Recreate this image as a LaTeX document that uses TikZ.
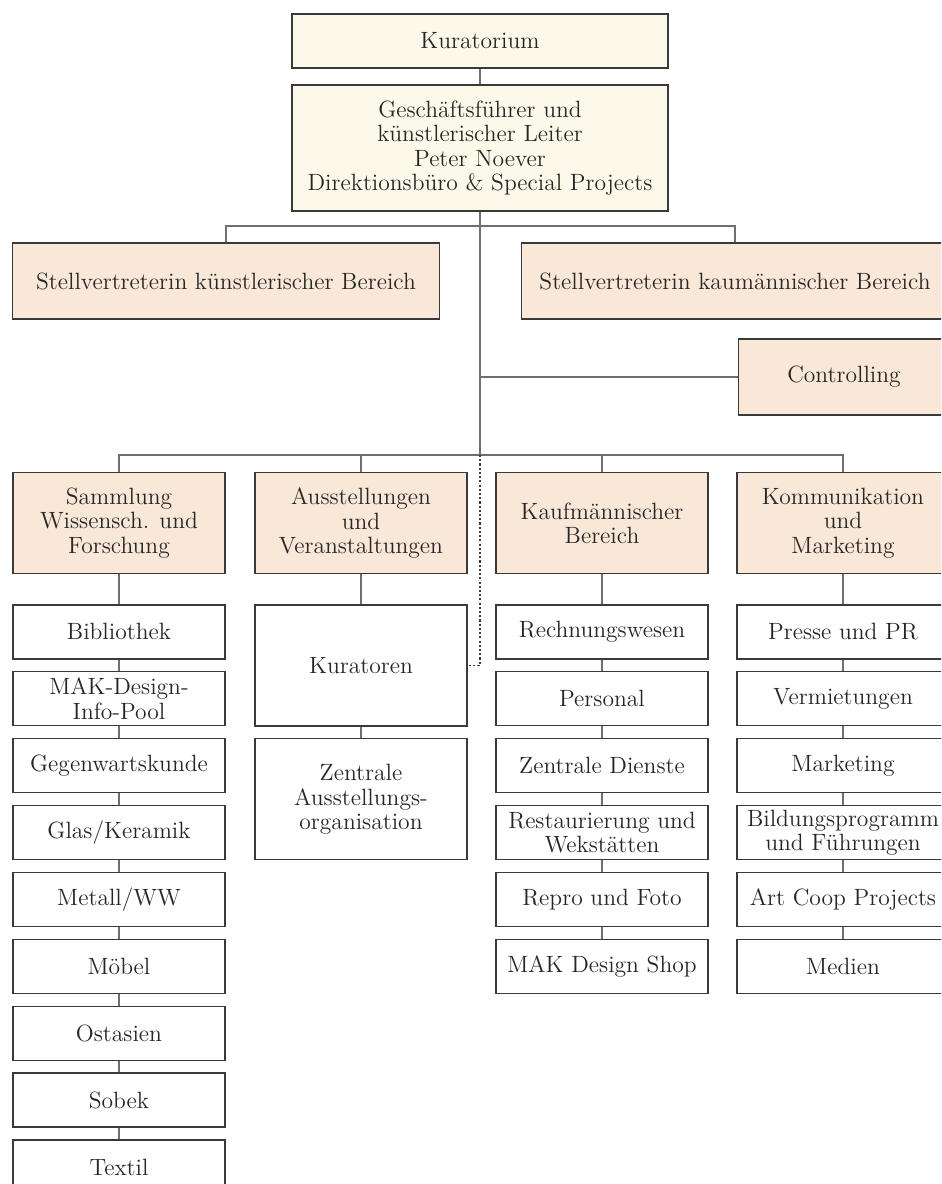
\documentclass[tikz,border=0pt]{standalone}
\usepackage{fontspec}
\usetikzlibrary{positioning}

\definecolor{cream}{HTML}{FCF9EA}
\definecolor{peach}{HTML}{F9E7D8}
\definecolor{boxline}{HTML}{3A3A3A}
\definecolor{linegray}{HTML}{6E6E78}

\begin{document}
\begin{tikzpicture}[
  x=0.02cm, y=-0.02cm,
  box/.style={
        draw=boxline,
        line width=0.8pt,
        align=center,
        inner sep=2pt,
        text=black!85,
        font=\fontsize{13.4}{13.8}\selectfont
  },
  topbox/.style={box, fill=cream, minimum width=7.52cm},
  deputy/.style={box, fill=peach, minimum width=8.54cm, minimum height=1.52cm},
  headbox/.style={box, fill=peach, minimum width=4.24cm, minimum height=2.02cm},
  unitbox/.style={box, fill=white, minimum width=4.24cm, minimum height=1.08cm},
  bigbox/.style={unitbox, minimum height=2.42cm},
  link/.style={draw=linegray, line width=0.6pt}
]

    \useasboundingbox (0,0) rectangle (941,1184);
    \clip (0,0) rectangle (941,1184);

    % top
    \node[topbox, minimum height=1.08cm] (kurat) at (480,41) {Kuratorium};
    \node[topbox, minimum height=2.52cm] (gf) at (480,148)
        {Geschäftsführer und\\künstlerischer Leiter\\Peter Noever\\Direktionsbüro \& Special Projects};

    \node[deputy] (stkb) at (226,281) {Stellvertreterin künstlerischer Bereich};
    \node[deputy] (stkm) at (735,281) {Stellvertreterin kaumännischer Bereich};
    \node[deputy, minimum width=4.22cm] (contr) at (844,377) {Controlling};

    \coordinate (dbar) at (480,226);
    \coordinate (hbar) at (480,455);

    \draw[link] (kurat) -- (gf);
    \draw[link] (gf.south) -- (hbar);
    \draw[link] (stkb.north) |- (dbar) -| (stkm.north);
    \draw[link] (contr.west) -- (contr.west -| gf.south);

    % departments
    \node[headbox] (samm) at (119,523) {Sammlung\\Wissensch. und\\Forschung};
    \node[headbox] (ausst) at (361,523) {Ausstellungen\\und\\Veranstaltungen};
    \node[headbox] (kfm) at (602,523) {Kaufmännischer\\Bereich};
    \node[headbox] (komm) at (843,523) {Kommunikation\\und\\Marketing};

    \draw[link] (samm.north) |- (hbar) -| (komm.north);
    \draw[link] (ausst.north) -- (ausst.north |- hbar);
    \draw[link] (kfm.north) -- (kfm.north |- hbar);

    % Sammlung
    \node[unitbox, below=0.6cm of samm] (bib) {Bibliothek};
    \node[unitbox, below=0.23cm of bib] (infopool) {MAK-Design-\\Info-Pool};
    \node[unitbox, below=0.23cm of infopool] (gegw) {Gegenwartskunde};
    \node[unitbox, below=0.23cm of gegw] (glas) {Glas/Keramik};
    \node[unitbox, below=0.23cm of glas] (metall) {Metall/WW};
    \node[unitbox, below=0.23cm of metall] (moebel) {Möbel};
    \node[unitbox, below=0.23cm of moebel] (ostas) {Ostasien};
    \node[unitbox, below=0.23cm of ostas] (sobek) {Sobek};
    \node[unitbox, below=0.23cm of sobek] (textil) {Textil};

    % Ausstellungen
    \node[bigbox, below=0.6cm of ausst] (kurtn) {Kuratoren};
    \node[bigbox, below=0.23cm of kurtn] (ausorg) {Zentrale\\Ausstellungs-\\organisation};

    % Kaufmaennischer Bereich
    \node[unitbox, below=0.6cm of kfm] (rechn) {Rechnungswesen};
    \node[unitbox, below=0.23cm of rechn] (pers) {Personal};
    \node[unitbox, below=0.23cm of pers] (zdienst) {Zentrale Dienste};
    \node[unitbox, below=0.23cm of zdienst] (restaur) {Restaurierung und\\Wekstätten};
    \node[unitbox, below=0.23cm of restaur] (repro) {Repro und Foto};
    \node[unitbox, below=0.23cm of repro] (shop) {MAK Design Shop};

    % Kommunikation
    \node[unitbox, below=0.6cm of komm] (presse) {Presse und PR};
    \node[unitbox, below=0.23cm of presse] (vermiet) {Vermietungen};
    \node[unitbox, below=0.23cm of vermiet] (mkt) {Marketing};
    \node[unitbox, below=0.23cm of mkt] (bildung) {Bildungsprogramm\\und Führungen};
    \node[unitbox, below=0.23cm of bildung] (artcoop) {Art Coop Projects};
    \node[unitbox, below=0.23cm of artcoop] (medien) {Medien};

    \foreach \a/\b in {samm/bib, bib/infopool, infopool/gegw, gegw/glas, glas/metall,
                       metall/moebel, moebel/ostas, ostas/sobek, sobek/textil,
                       ausst/kurtn, kurtn/ausorg,
                       kfm/rechn, rechn/pers, pers/zdienst, zdienst/restaur, restaur/repro, repro/shop,
                       komm/presse, presse/vermiet, vermiet/mkt, mkt/bildung, bildung/artcoop, artcoop/medien}
        \draw[link] (\a) -- (\b);

    \draw[link, draw=boxline, dash pattern=on 1.2pt off 1.2pt] (hbar) |- (kurtn.east);
\end{tikzpicture}
\end{document}
